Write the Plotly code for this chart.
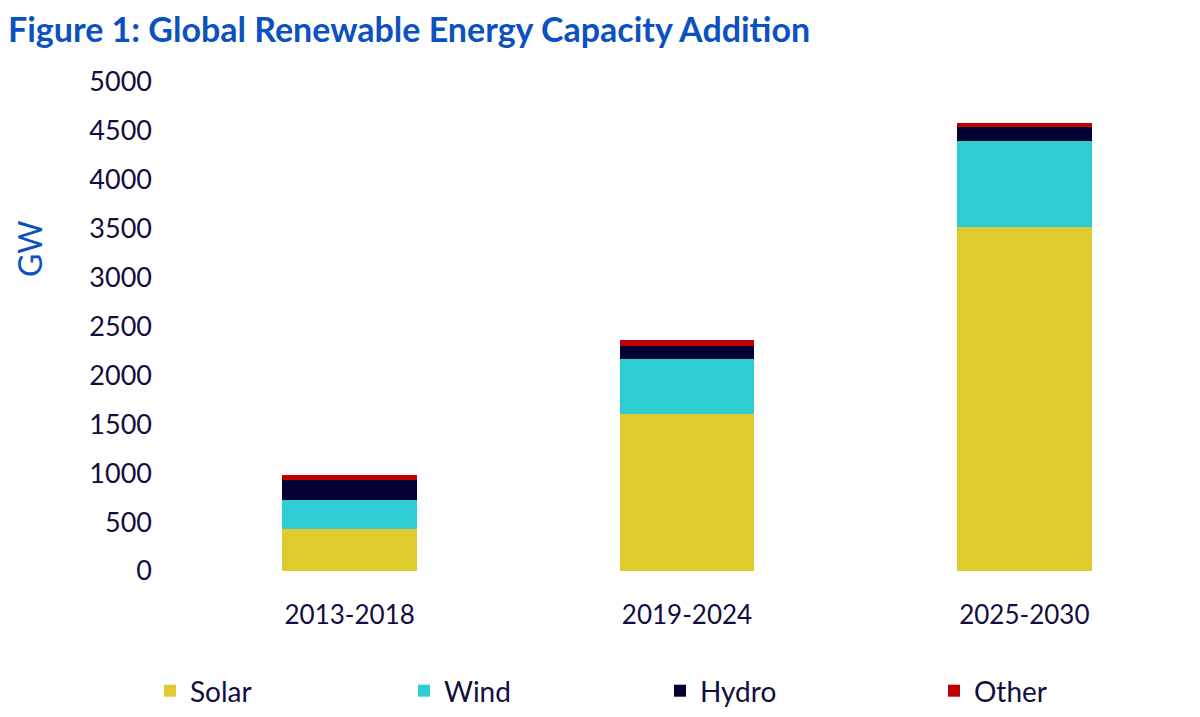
import plotly.graph_objects as go

periods = ["2013-2018", "2019-2024", "2025-2030"]
solar = [427, 1608, 3522]
wind = [303, 563, 873]
hydro = [196, 133, 148]
other = [54, 55, 38]

series_names = ["Solar", "Wind", "Hydro", "Other"]
series_values = [solar, wind, hydro, other]
series_colors = ["#DFCB2E", "#2ECDD3", "#020033", "#C00000"]
legend_ids = ["legend", "legend2", "legend3", "legend4"]
legend_text_x = [190, 444, 700, 974]

# the page has an 8px body margin; lay out in page pixels and shift
OFF = 8
W, H = 1200 - OFF, 717 - OFF
FONT = "Lato"
NAVY = "#120E40"
BLUE = "#0B52C0"

fig = go.Figure()
for name, vals, col, lid in zip(series_names, series_values, series_colors, legend_ids):
    fig.add_trace(go.Bar(x=periods, y=vals, name=name,
                         marker=dict(color=col, line=dict(width=0)),
                         legend=lid))

layout_legends = {}
for lid, tx in zip(legend_ids, legend_text_x):
    layout_legends[lid] = dict(
        xref="container", yref="container",
        x=(tx - 40 - OFF) / W, y=1 - (691 - OFF) / H, xanchor="left", yanchor="middle",
        orientation="h", font=dict(family=FONT, size=28, color=NAVY),
        bgcolor="rgba(0,0,0,0)", borderwidth=0, itemsizing="constant",
    )

left, top, bottom = 181 - OFF, 82 - OFF, 571 - OFF
fig.update_layout(
    width=W, height=H,
    barmode="stack", bargap=0.6,
    plot_bgcolor="white", paper_bgcolor="white",
    margin=dict(l=left, r=7, t=top, b=H - bottom),
    font=dict(family=FONT, color=NAVY),
    title=dict(text="<b>Figure 1: Global Renewable Energy Capacity Addition</b>",
               font=dict(family=FONT, size=34, color=BLUE),
               xref="container", yref="container", x=0 / W, y=1 - (30 - OFF) / H,
               xanchor="left", yanchor="middle"),
    showlegend=True,
    **layout_legends,
)
fig.update_yaxes(range=[0, 5000], dtick=500, tick0=0, showgrid=False, zeroline=False,
                 showline=False, ticks="", ticklabelstandoff=28,
                 tickfont=dict(family=FONT, size=27, color=NAVY))
fig.update_xaxes(showgrid=False, showline=False, ticks="", ticklabelstandoff=26,
                 tickfont=dict(family=FONT, size=26, color=NAVY))
fig.add_annotation(text="GW", textangle=-90, xref="paper", yref="paper",
                   x=(30 - 181) / (W - left - 7), y=(571 - 249) / (571 - 82),
                   xanchor="center", yanchor="middle", showarrow=False,
                   font=dict(family=FONT, size=32, color=BLUE))

fig.write_html("out.html")
